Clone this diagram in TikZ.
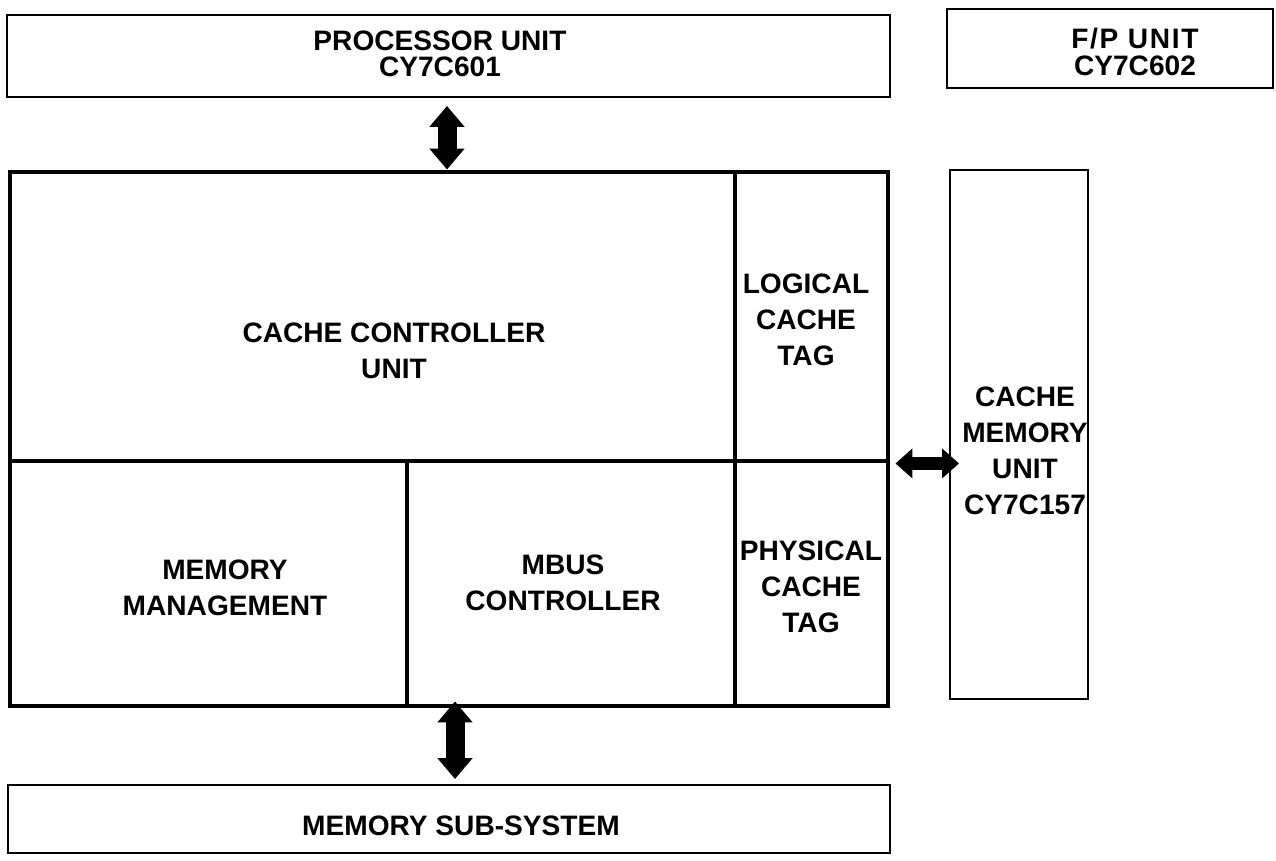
\documentclass[tikz,border=0pt]{standalone}
\usepackage{fontspec}
\setmainfont{Liberation Sans}
\usetikzlibrary{fit,arrows.meta}

\tikzset{
  unitbox/.style={draw, line width=1.1pt, inner sep=0pt},
  corebox/.style={draw, line width=2.8pt, inner sep=0pt},
  lbl/.style={font=\fontsize{16}{20.5}\selectfont\bfseries, align=center, inner sep=0pt},
  toplbl/.style={lbl, font=\fontsize{16}{15}\selectfont\bfseries},
  busarrow/.style={line width=0.38cm,
    {Triangle[width=0.68cm,length=0.42cm]}-{Triangle[width=0.68cm,length=0.42cm]}},
  sidearrow/.style={line width=0.26cm,
    {Triangle[width=0.58cm,length=0.34cm]}-{Triangle[width=0.58cm,length=0.34cm]}}
}

\begin{document}
\begin{tikzpicture}[x=0.02cm, y=-0.02cm]
    \useasboundingbox (0,0) rectangle (1276,861);

    % units around the chip
    \node[unitbox, fit={(7,15) (890,97)}] (proc) {};
    \node[unitbox, fit={(947,9) (1273,88)}] (fpu) {};
    \node[unitbox, fit={(950,170) (1088,699)}] (cmu) {};
    \node[unitbox, fit={(8,785) (890,853)}] (mss) {};

    % cache controller chip
    \node[corebox, fit={(10,172) (735,461)}] (ccu) {};
    \node[corebox, fit={(735,172) (888,461)}] (lct) {};
    \node[corebox, fit={(10,461) (407,706)}] (mmu) {};
    \node[corebox, fit={(407,461) (735,706)}] (mbus) {};
    \node[corebox, fit={(735,461) (888,706)}] (pct) {};

    % labels
    \node[toplbl] (proc-t) at (440,54) {PROCESSOR UNIT\\CY7C601};
    \node[toplbl] (fpu-t) at (1135,52) {\addfontfeature{LetterSpace=6}F/P UNIT\\CY7C602};
    \node[lbl] (ccu-t) at (394,351) {CACHE CONTROLLER\\UNIT};
    \node[lbl] (lct-t) at (806,320) {LOGICAL\\CACHE\\TAG};
    \node[lbl] (mmu-t) at (225,588) {MEMORY\\MANAGEMENT};
    \node[lbl] (mbus-t) at (563,583) {MBUS\\CONTROLLER};
    \node[lbl] (pct-t) at (811,587) {PHYSICAL\\CACHE\\TAG};
    \node[lbl] (cmu-t) at (1025,451) {CACHE\\MEMORY\\UNIT\\CY7C157};
    \node[lbl] (mss-t) at (461,826) {MEMORY SUB-SYSTEM};

    % buses
    \coordinate (pa) at (447,0);
    \coordinate (pb) at (455,0);
    \draw[busarrow, shorten <=0.16cm] (proc.south -| pa) -- (ccu.north -| pa);
    \draw[sidearrow, shorten <=0.1cm, shorten >=-0.2cm] (lct.south east) -- (lct.south east -| cmu.west);
    \draw[busarrow, shorten <=-0.14cm, shorten >=0.1cm] (mbus.south -| pb) -- (mss.north -| pb);
\end{tikzpicture}
\end{document}
